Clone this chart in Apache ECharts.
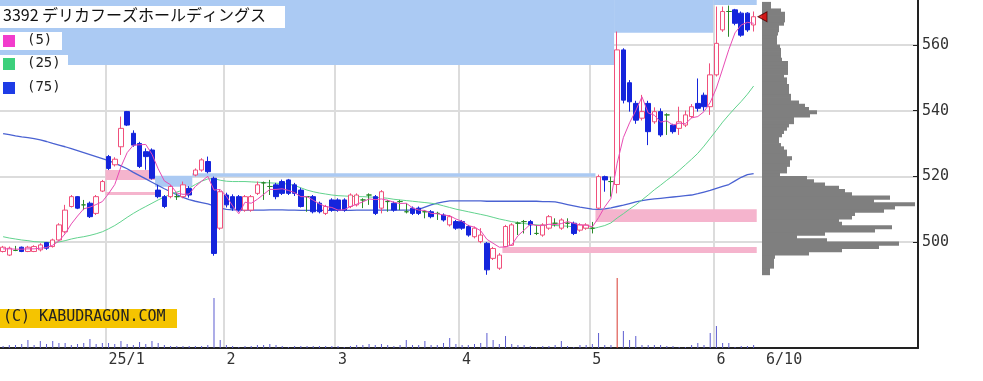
<!DOCTYPE html>
<html><head><meta charset="utf-8">
<script src="https://cdn.jsdelivr.net/npm/echarts@6/dist/echarts.min.js"></script>
<style>html,body{margin:0;padding:0;background:#fff}#c{width:983px;height:381px}</style>
</head><body><div id="c"></div>
<script>
const dates = ['12/6','12/9','12/10','12/11','12/12','12/13','12/16','12/17','12/18','12/19','12/20','12/23','12/24','12/25','12/26','12/27','12/30',
'1/6','1/7','1/8','1/9','1/10','1/14','1/15','1/16','1/17','1/20','1/21','1/22','1/23','1/24','1/27','1/28','1/29','1/30','1/31',
'2/3','2/4','2/5','2/6','2/7','2/10','2/12','2/13','2/14','2/17','2/18','2/19','2/20','2/21','2/25','2/26','2/27','2/28',
'3/3','3/4','3/5','3/6','3/7','3/10','3/11','3/12','3/13','3/14','3/17','3/18','3/19','3/21','3/24','3/25','3/26','3/27','3/28','3/31',
'4/1','4/2','4/3','4/4','4/7','4/8','4/9','4/10','4/11','4/14','4/15','4/16','4/17','4/18','4/21','4/22','4/23','4/24','4/25','4/28','4/30',
'5/1','5/2','5/7','5/8','5/9','5/12','5/13','5/14','5/15','5/16','5/19','5/20','5/21','5/22','5/23','5/26','5/27','5/28','5/29','5/30',
'6/2','6/3','6/4','6/5','6/6','6/9','6/10'];

const open = [497.1,496.0,497.4,498.4,497.1,497.1,497.6,499.8,498.6,500.6,503.1,510.8,513.8,511.3,511.8,508.7,515.5,
526.0,523.5,529.0,539.7,533.1,530.0,527.5,528.0,515.8,513.8,513.8,513.8,513.8,516.3,520.4,521.9,524.5,519.4,504.2,
514.3,513.8,513.8,509.7,509.7,514.8,518.0,516.9,517.4,518.4,518.9,517.4,515.8,513.8,513.8,511.8,508.7,512.8,
512.8,512.8,510.8,511.3,512.8,514.3,513.8,510.3,512.3,511.8,512.3,509.2,510.3,510.3,509.2,509.2,508.7,508.2,505.2,506.2,
506.2,504.7,501.6,500.1,499.6,495.0,492.0,498.6,499.0,505.7,506.2,506.2,502.6,502.1,504.2,505.7,504.2,505.7,505.7,503.6,504.2,
504.2,510.3,519.9,518.4,517.5,558.5,548.5,542.2,537.7,542.2,536.6,539.7,538.7,535.6,534.6,535.6,538.2,542.2,544.7,541.2,
550.9,564.6,570.2,570.7,569.7,569.7,566.1];
const close = [498.4,498.1,497.4,497.1,498.4,498.6,499.1,498.1,500.6,505.2,509.7,513.8,510.3,511.3,507.7,513.8,518.4,
522.4,525.2,534.6,535.6,529.5,523.0,526.0,519.4,513.8,510.8,516.9,513.8,517.4,514.3,521.9,525.0,521.4,496.5,515.3,
511.3,510.3,509.7,513.8,513.8,517.4,518.0,516.9,513.8,514.8,514.8,514.8,510.8,513.8,509.2,509.2,510.8,509.7,
509.7,509.7,514.3,514.3,512.8,514.3,508.7,515.3,512.3,509.7,512.3,509.2,508.7,508.7,509.2,507.7,508.7,506.7,507.7,504.2,
504.2,502.1,504.2,502.1,491.5,498.0,496.0,504.7,505.2,505.7,506.2,505.2,502.6,505.2,507.7,505.7,506.7,505.7,502.6,505.2,505.2,
504.2,519.9,518.9,518.4,558.5,543.2,542.7,537.1,539.7,533.6,539.7,532.6,538.7,533.6,536.6,538.7,541.2,540.7,541.2,550.9,
560.5,570.2,570.2,566.6,563.0,564.6,568.6];
const low = [496.8,495.7,497.2,496.9,496.9,496.9,497.1,497.6,498.3,500.4,502.6,510.5,510.0,509.7,507.3,508.2,515.2,
521.9,523.0,526.5,535.3,529.0,522.5,522.0,519.0,513.3,510.3,513.3,512.8,513.3,513.5,520.0,521.4,520.9,495.8,503.7,
510.5,509.5,509.2,509.2,509.2,514.3,512.8,514.3,513.0,514.3,514.3,514.0,510.5,509.2,508.7,508.7,508.2,509.2,
509.2,509.2,510.3,510.8,510.3,511.3,508.2,508.7,509.2,509.2,509.7,508.7,508.2,508.2,507.2,507.2,506.7,506.2,504.7,503.7,
503.7,501.6,501.1,499.6,490.0,494.5,491.5,498.5,498.8,502.1,502.6,502.1,502.1,501.6,503.7,504.7,503.7,504.2,502.1,503.1,503.7,
502.6,510.0,515.3,513.8,514.8,542.2,539.7,536.0,537.0,529.5,536.0,532.0,532.6,533.0,532.6,535.0,537.7,539.7,540.0,538.7,
550.4,564.0,562.5,566.0,562.5,564.0,564.1];
const high = [498.8,498.6,498.8,498.6,498.8,499.0,499.6,500.0,501.0,505.7,511.3,514.3,514.0,512.8,512.3,514.3,518.9,
526.5,525.8,538.2,539.9,534.0,530.5,528.5,528.5,517.4,514.3,517.4,514.8,518.4,517.0,522.4,525.5,526.0,519.9,516.0,
515.0,514.5,514.3,514.3,514.3,518.4,518.4,518.9,518.0,519.0,519.2,518.0,516.5,514.0,514.3,512.3,511.3,513.3,
513.3,513.3,514.8,514.8,513.3,514.8,514.3,515.8,512.8,512.3,512.8,511.8,510.8,510.8,509.7,509.7,509.2,508.7,508.2,506.7,
506.7,505.2,504.7,504.2,500.0,498.5,496.6,505.2,505.7,506.2,506.7,506.7,505.2,505.7,508.2,507.2,507.2,507.2,506.2,505.7,505.7,
506.1,520.5,520.2,519.9,564.1,559.0,549.3,543.0,544.8,543.0,541.0,540.7,539.2,536.0,541.2,540.0,542.0,549.8,545.5,554.4,
571.7,571.7,572.0,571.0,570.2,570.0,570.2];

const ma5 = [497.9,497.9,497.8,497.8,497.9,497.9,498.1,498.3,499.0,500.3,502.5,505.5,507.9,510.1,510.6,511.4,512.3,
514.7,517.5,522.9,527.2,529.5,529.6,529.7,526.7,522.3,518.6,517.4,514.9,514.5,514.6,516.9,518.5,520.0,515.8,516.0,
513.9,511.0,508.6,512.1,511.8,513.0,514.5,516.0,516.0,516.2,515.7,515.0,513.8,513.8,512.7,511.6,510.8,510.5,
509.7,509.8,510.8,511.5,512.2,513.1,512.9,513.1,512.7,512.1,511.7,511.8,510.4,509.7,509.6,508.7,508.6,508.2,508.0,507.0,
506.3,505.0,504.5,503.4,500.8,499.6,498.4,498.5,499.1,501.9,503.6,505.4,505.0,505.0,505.4,505.3,505.6,506.2,505.7,505.2,505.1,
504.6,507.4,510.7,513.3,524.0,531.8,536.3,540.0,544.2,539.3,538.6,536.5,536.9,535.6,536.2,536.0,537.8,538.2,539.7,542.5,
546.9,552.7,558.6,563.7,566.1,566.9,566.6];
const ma25 = [501.6,501.2,500.9,500.6,500.4,500.1,500.0,499.9,499.8,500.0,500.4,500.9,501.3,501.6,502.0,502.5,503.1,
504.0,505.0,506.2,507.5,508.7,509.8,510.8,511.8,512.8,513.7,514.5,515.2,515.8,516.4,517.5,518.5,519.2,519.3,518.8,
518.5,518.4,518.4,518.4,518.3,518.2,518.1,518.0,517.9,517.8,517.6,517.2,516.5,515.8,515.3,514.9,514.6,514.3,
514.1,514.0,513.9,513.8,513.8,513.7,513.6,513.5,513.3,513.0,512.8,512.6,512.4,512.2,512.0,511.8,511.5,511.0,510.5,510.0,
509.6,509.2,508.8,508.4,508.0,507.5,507.0,506.6,506.2,505.9,505.6,505.4,505.2,505.1,505.0,505.0,504.9,504.8,504.6,504.4,504.2,
504.0,504.5,505.0,505.8,507.3,508.6,510.0,511.3,512.8,514.3,515.9,517.3,518.8,520.2,521.8,523.5,525.2,527.0,529.2,531.6,
534.0,536.5,538.7,540.8,542.8,545.0,547.5];
const ma75 = [533.0,532.7,532.3,532.0,531.8,531.5,531.1,530.6,530.0,529.5,529.0,528.4,527.8,527.2,526.6,526.0,525.4,
524.8,524.0,523.2,522.3,521.2,520.2,519.2,518.2,517.2,516.2,515.3,514.4,513.6,512.9,512.4,512.0,511.6,511.0,510.3,
509.9,509.8,509.8,509.7,509.7,509.7,509.7,509.8,509.8,509.8,509.7,509.7,509.6,509.6,509.6,509.6,509.6,509.6,
509.6,509.6,509.6,509.7,509.7,509.7,509.7,509.7,509.7,509.7,509.7,509.7,509.7,509.9,510.6,511.3,511.8,512.2,512.5,512.5,
512.5,512.5,512.5,512.5,512.4,512.4,512.4,512.4,512.4,512.4,512.4,512.4,512.4,512.3,512.3,512.2,511.8,511.4,511.0,510.6,510.3,
510.0,509.9,510.1,510.4,510.8,511.2,511.7,512.2,512.6,512.9,513.1,513.3,513.5,513.7,513.9,514.1,514.3,514.7,515.2,515.7,
516.3,516.9,517.5,518.6,519.7,520.5,520.8];

const volume = [2,3,3,4,8,3,7,4,7,5,5,3,4,5,9,4,5,
5,4,7,4,3,6,4,7,5,3,2,2,2,2,2,2,3,50,8,
3,2,1,2,2,3,3,4,3,2,1,2,2,2,2,2,2,2,
2,1,2,3,3,4,3,4,3,2,3,8,3,3,7,3,3,5,10,4,
3,3,4,5,15,8,4,12,4,3,3,2,1,2,2,3,7,2,1,3,3,
4,15,3,3,70,17,8,12,3,3,3,3,2,2,1,1,3,5,3,15,
22,5,5,1,2,2,3];

const yTicks = [500, 520, 540, 560];
const monthLabels = {'1/6':'25/1','2/3':'2','3/3':'3','4/1':'4','5/1':'5','6/2':'6'};
const lastLabel = '6/10';

// price gaps (窓): start day index, end day index, low, high, kind
const gapStart = [0, 99, 115, 17, 17, 25, 31, 81, 96];
const gapEnd   = [98, 114, 121, 24, 24, 30, 95, 121, 121];
const gapLow   = [553.9, 563.7, 572.2, 518.9, 514.3, 516.8, 519.9, 496.6, 506.1];
const gapHigh  = [574.5, 574.5, 574.5, 521.9, 515.2, 520.2, 520.9, 498.5, 510.0];
const gapKind  = ['down','down','down','up','up','down','down','up','up'];

// price-by-volume profile (1-yen bins)
const profilePrice = [490,491,492,493,494,495,496,497,498,499,500,501,502,503,504,505,506,507,508,509,510,511,512,513,514,515,516,517,518,519,520,521,522,523,524,525,526,527,528,529,530,531,532,533,534,535,536,537,538,539,540,541,542,543,544,545,546,547,548,549,550,551,552,553,554,555,556,557,558,559,560,561,562,563,564,565,566,567,568,569,570,571,572];
const profileVol = [8,8,12,12,12,13,47,80,117,137,65,35,63,113,130,80,77,90,93,122,133,153,112,128,90,83,77,63,52,45,18,25,25,28,28,30,25,25,22,19,17,17,20,22,25,27,32,32,48,55,47,43,37,29,29,27,27,27,25,25,22,26,26,26,26,20,19,19,19,18,15,15,15,16,17,17,22,23,23,23,19,9,9];

const PAD = 26;
const cats = dates.concat(Array.from({length: PAD}, (_, i) => '#' + i));
const lastLabelSlot = dates.length + 1;

const UP = '#f0507c', DOWN = '#1424dc', DOJI = '#2a8a2a';
const candleData = dates.map((d, i) => {
  const item = { value: [open[i], close[i], low[i], high[i]] };
  if (open[i] === close[i]) item.itemStyle = { color: DOJI, color0: DOJI, borderColor: DOJI, borderColor0: DOJI };
  return item;
});
const maxVol = Math.max(...volume);
const volData = volume.map(v => ({ value: v, itemStyle: { color: v === maxVol ? '#d83a30' : '#5c5cd0' } }));
const gapData = gapStart.map((s, i) => [s, gapEnd[i], gapLow[i], gapHigh[i], gapKind[i] === 'up' ? 1 : 0]);
const profData = profilePrice.map((p, i) => [profileVol[i], p]);

const YMIN = 467.7, YMAX = 573.7;
const axisFont = '"DejaVu Sans Mono", monospace';

const chart = echarts.init(document.getElementById('c'), null, { renderer: 'canvas' });
chart.setOption({
  animation: false,
  backgroundColor: '#ffffff',
  grid: [
    { left: -1, right: 65, top: 0, bottom: 33 },
    { left: -1, right: 65, top: 248, bottom: 33 },
    { left: 762, right: 65, top: 0, bottom: 33 }
  ],
  xAxis: [
    { type: 'category', gridIndex: 0, data: cats, boundaryGap: true,
      axisLine: { show: true, lineStyle: { color: '#222', width: 2 } },
      axisTick: { show: false },
      axisLabel: { interval: 0, align: 'left', margin: 5, color: '#333', fontSize: 15, fontFamily: axisFont,
        formatter: (v, idx) => monthLabels[v] ? monthLabels[v] : (idx === lastLabelSlot ? lastLabel : '') },
      splitLine: { show: true, interval: (idx, v) => !!monthLabels[v], lineStyle: { color: '#dcdcdc', width: 2 } } },
    { type: 'category', gridIndex: 1, data: cats, boundaryGap: true, show: false },
    { type: 'value', gridIndex: 2, min: 0, max: 156, show: false }
  ],
  yAxis: [
    { type: 'value', gridIndex: 0, position: 'right', min: YMIN, max: YMAX,
      axisLine: { show: true, lineStyle: { color: '#222', width: 2 } },
      axisTick: { show: true, inside: true, length: 5, customValues: yTicks, lineStyle: { color: '#222' } },
      axisLabel: { customValues: yTicks, color: '#333', fontSize: 15, fontFamily: axisFont, margin: 4 },
      splitLine: { show: true, lineStyle: { color: '#dcdcdc', width: 2 } } },
    { type: 'value', gridIndex: 1, min: 0, max: 100, show: false },
    { type: 'value', gridIndex: 2, min: YMIN, max: YMAX, show: false }
  ],
  series: [
    { type: 'custom', name: 'gaps', xAxisIndex: 0, yAxisIndex: 0, z: 1, silent: true,
      encode: { x: [0, 1], y: [2, 3] },
      data: gapData,
      renderItem: (params, api) => {
        const w = api.size([1, 0])[0];
        const a = api.coord([api.value(0), api.value(3)]);
        const b = api.coord([api.value(1), api.value(2)]);
        return { type: 'rect', shape: { x: a[0] - w / 2, y: a[1], width: b[0] - a[0] + w, height: b[1] - a[1] },
          style: { fill: api.value(4) ? '#f5b4cd' : '#abcaf3' } };
      } },
    { type: 'custom', name: 'profile', xAxisIndex: 2, yAxisIndex: 2, z: 3, silent: true,
      encode: { x: 0, y: 1 },
      data: profData,
      renderItem: (params, api) => {
        const a = api.coord([0, api.value(1) + 1]);
        const b = api.coord([api.value(0), api.value(1)]);
        return { type: 'rect', shape: { x: a[0], y: a[1] - 0.4, width: b[0] - a[0], height: b[1] - a[1] + 0.8 },
          style: { fill: '#7f7f7f' } };
      } },
    { type: 'bar', name: 'volume', xAxisIndex: 1, yAxisIndex: 1, barWidth: 1, data: volData, z: 2, silent: true },
    { type: 'line', name: '(75)', data: ma75, showSymbol: false, symbol: 'none', z: 4, silent: true,
      lineStyle: { color: '#4a62d2', width: 1.3 } },
    { type: 'line', name: '(25)', data: ma25, showSymbol: false, symbol: 'none', z: 4, silent: true,
      lineStyle: { color: '#62d38e', width: 1 } },
    { type: 'candlestick', name: 'price', data: candleData, barWidth: 5, z: 5, silent: true,
      itemStyle: { color: '#ffffff', color0: DOWN, borderColor: UP, borderColor0: DOWN, borderWidth: 1 } },
    { type: 'line', name: '(5)', data: ma5, showSymbol: false, symbol: 'none', z: 6, silent: true,
      lineStyle: { color: '#e84cb4', width: 1 } },
    { type: 'scatter', name: 'last', xAxisIndex: 2, yAxisIndex: 2, z: 7, clip: false, silent: true,
      symbol: 'triangle', symbolRotate: 90, symbolSize: [10, 9],
      itemStyle: { color: '#e60000', borderColor: '#500000', borderWidth: 1 },
      data: [[0.5, close[close.length - 1]]] }
  ],
  graphic: [
    { type: 'rect', left: 0, top: 6, shape: { width: 285, height: 22 }, style: { fill: '#ffffff' }, z: 100 },
    { type: 'text', left: 3, top: 7, z: 101, style: { text: '3392 デリカフーズホールディングス', font: '16px "Noto Sans CJK JP"', fill: '#111' } },
    { type: 'rect', left: 0, top: 32, shape: { width: 62, height: 18 }, style: { fill: '#ffffff' }, z: 100 },
    { type: 'rect', left: 0, top: 55, shape: { width: 68, height: 18 }, style: { fill: '#ffffff' }, z: 100 },
    { type: 'rect', left: 3, top: 35, shape: { width: 12, height: 12 }, style: { fill: '#f23ccc' }, z: 101 },
    { type: 'rect', left: 3, top: 58, shape: { width: 12, height: 12 }, style: { fill: '#3cd07c' }, z: 101 },
    { type: 'rect', left: 3, top: 82, shape: { width: 12, height: 12 }, style: { fill: '#1e3ce6' }, z: 101 },
    { type: 'text', left: 27, top: 33, z: 101, style: { text: '(5)', font: '14px "DejaVu Sans Mono"', fill: '#222' } },
    { type: 'text', left: 27, top: 56, z: 101, style: { text: '(25)', font: '14px "DejaVu Sans Mono"', fill: '#222' } },
    { type: 'text', left: 27, top: 80, z: 101, style: { text: '(75)', font: '14px "DejaVu Sans Mono"', fill: '#222' } },
    { type: 'rect', left: 0, top: 309, shape: { width: 177, height: 19 }, style: { fill: '#f5c400' }, z: 100 },
    { type: 'text', left: 3, top: 310, z: 101, style: { text: '(C) KABUDRAGON.COM', font: '15px "DejaVu Sans Mono"', fill: '#222' } }
  ]
});
</script>
</body></html>
